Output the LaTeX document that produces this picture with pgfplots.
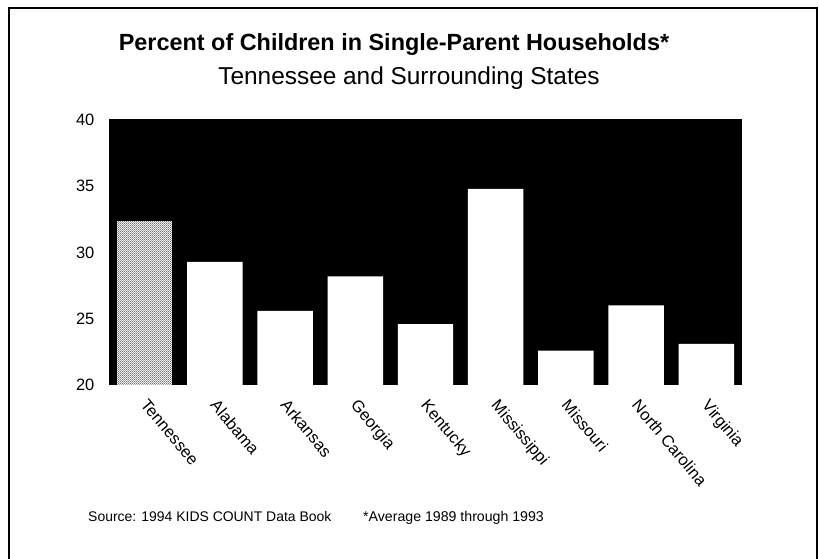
\documentclass[border=0pt]{standalone}
\usepackage{fontspec}
\setmainfont{Liberation Sans}
\usepackage{pgfplots}
\pgfplotsset{compat=1.18}
\usetikzlibrary{patterns.meta}
\pgfdeclarepattern{
  name=finedots,
  type=uncolored,
  bottom left={\pgfpoint{0pt}{0pt}},
  top right={\pgfpoint{2.2pt}{2.2pt}},
  tile size={\pgfpoint{2.2pt}{2.2pt}},
  code={
    \pgfpathcircle{\pgfpoint{0.55pt}{0.55pt}}{0.5pt}
    \pgfpathcircle{\pgfpoint{1.65pt}{1.65pt}}{0.5pt}
    \pgfusepath{fill}
  }
}
\begin{document}
\begin{tikzpicture}[x=1bp,y=1bp]
\useasboundingbox (0,0) rectangle (819,559);
\draw[line width=2bp] (9,-2) -- (9,551) -- (817,551) -- (817,-2);
\node[font=\bfseries\fontsize{23.5}{26}\selectfont] at (394,514) {Percent of Children in Single-Parent Households*};
\node[font=\fontsize{24.5}{27}\selectfont] at (409,481) {Tennessee and Surrounding States};
\begin{axis}[
  at={(109.5bp,174bp)}, anchor=south west,
  scale only axis, width=632bp, height=265bp,
  xmin=-0.5, xmax=8.5, ymin=20, ymax=40,
  axis background/.style={fill=black},
  axis line style={black, line width=1bp},
  ytick={20,25,30,35,40},
  xtick={0,...,8},
  xticklabels={Tennessee,Alabama,Arkansas,Georgia,Kentucky,Mississippi,Missouri,North Carolina,Virginia},
  major tick length=0pt,
  /pgf/number format/assume math mode=true,
  yticklabel style={font=\fontsize{16.5}{18}\selectfont, inner sep=0pt, xshift=-15bp},
  xticklabel style={font=\fontsize{16.5}{18}\selectfont, inner sep=0pt, anchor=north west, xshift=4bp, yshift=-13bp, rotate=-50},
  ybar, bar width=0.79, bar shift=0pt,
]
\addplot[draw=none, fill=white, postaction={pattern=finedots, pattern color=black}] coordinates {(0,32.4)};
\addplot[draw=none, fill=white] coordinates {
 (1,29.3) (2,25.6) (3,28.2) (4,24.6) (5,34.8) (6,22.6) (7,26.0) (8,23.1)};
\end{axis}
\node[anchor=base west, inner sep=0pt, font=\fontsize{14}{16}\selectfont] at (88,37) {Source: 1994 KIDS COUNT Data Book};
\node[anchor=base west, inner sep=0pt, font=\fontsize{14.2}{16}\selectfont] at (363,37) {*Average 1989 through 1993};
\end{tikzpicture}
\end{document}
